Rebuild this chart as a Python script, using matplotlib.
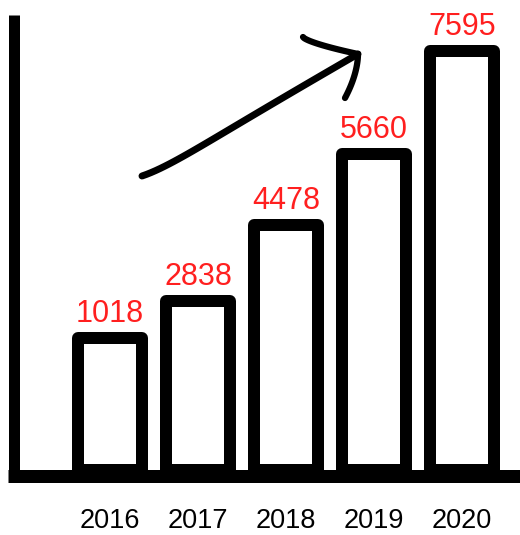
import numpy as np
import matplotlib.pyplot as plt

years = ['2016', '2017', '2018', '2019', '2020']
values = [1018, 2838, 4478, 5660, 7595]
# bar heights as sketched (not to scale with the values)
sketch_heights = [132, 169, 245, 316, 419]

W, H = 520, 535
fig = plt.figure(figsize=(W / 100, H / 100), dpi=100)
ax = fig.add_axes([0, 0, 1, 1])
ax.set_xlim(-110 / 88, (W - 110) / 88)
ax.set_ylim(470 - H, 470)
ax.axis('off')


def px(x, y):
    # image pixel -> data coords
    return (np.asarray(x) - 110) / 88, 470 - np.asarray(y)


lw12 = 12 * 72 / 100
x = np.arange(len(years))
ax.bar(x, sketch_heights, width=0.716, facecolor='white', edgecolor='black',
       linewidth=lw12, joinstyle='round')

for i, (v, h) in enumerate(zip(values, sketch_heights)):
    ax.text(i, h + 16, str(v), color='#ff1f1f', fontsize=22,
            family='Liberation Sans', ha='center', va='baseline')
    ax.text(i, -58, years[i], color='black', fontsize=19.5,
            family='Liberation Sans', ha='center', va='baseline')

# axes lines
ax.plot(*px([8, 520], [475.5, 475.5]), color='black', lw=13 * 0.72,
        solid_capstyle='butt')
ax.plot(*px([13.5, 13.5], [15, 482]), color='black', lw=11 * 0.72,
        solid_capstyle='butt')

# hand drawn arrow
t = np.linspace(0, 1, 50)
sx = 142 + 216 * t + 2 * np.sin(np.pi * t)
sy = 182 - 128 * t - 2 * np.sin(np.pi * t) - 6 * (1 - t) ** 10
ax.plot(*px(sx, sy), color='black', lw=5, solid_capstyle='round')
bx = 303 + 55 * t
by = 37 + 17 * t ** 0.7
ax.plot(*px(bx, by), color='black', lw=4.5, solid_capstyle='round')
cx = 358 - 13 * t ** 1.8
cy = 54 + 44 * t
ax.plot(*px(cx, cy), color='black', lw=4.5, solid_capstyle='round')

fig.savefig('out.png', dpi=100)
